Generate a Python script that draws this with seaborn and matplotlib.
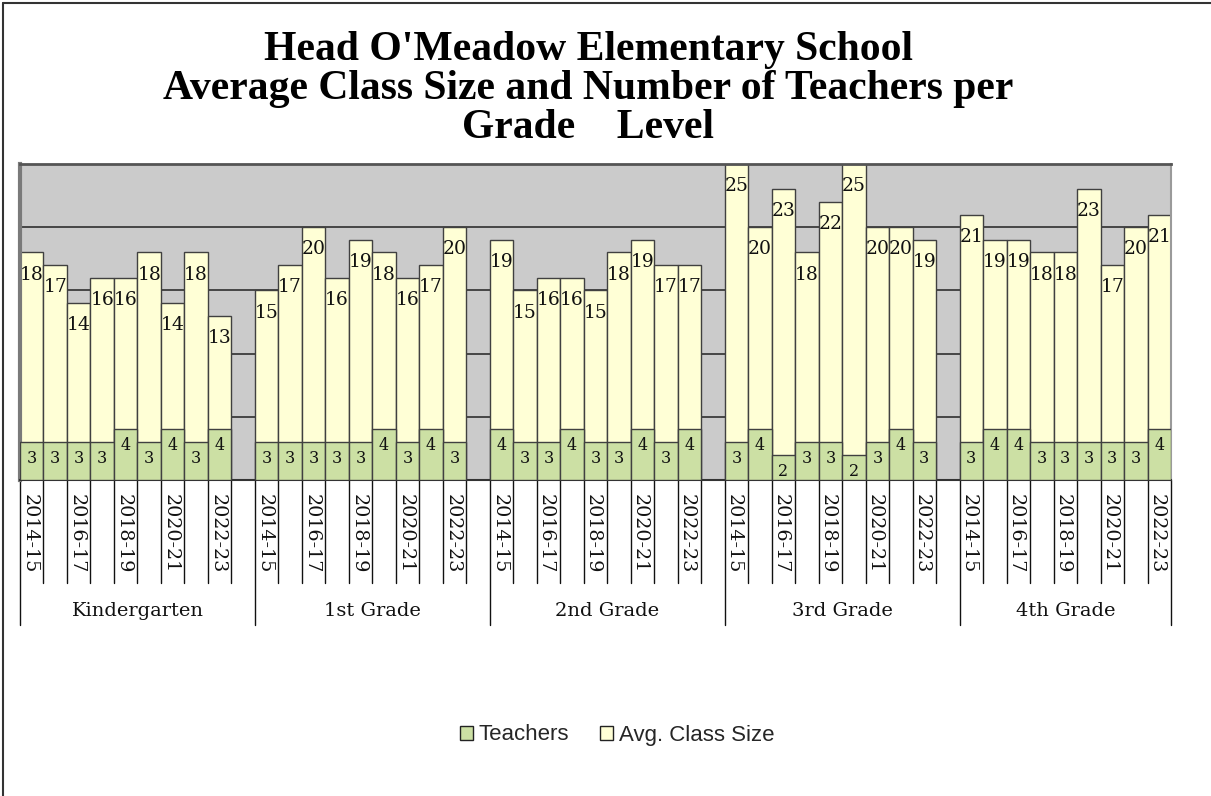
import numpy as np
import pandas as pd
import matplotlib
matplotlib.use("Agg")
import matplotlib.pyplot as plt
from matplotlib.patches import Patch
from matplotlib.lines import Line2D
import matplotlib.transforms as mtransforms
import seaborn as sns

# ---------------- data ----------------
grades = ["Kindergarten", "1st Grade", "2nd Grade", "3rd Grade", "4th Grade"]
years = ["2014-15", "2015-16", "2016-17", "2017-18", "2018-19",
         "2019-20", "2020-21", "2021-22", "2022-23"]
year_labels_shown = ["2014-15", "2016-17", "2018-19", "2020-21", "2022-23"]

class_k = [18, 17, 14, 16, 16, 18, 14, 18, 13]
class_1 = [15, 17, 20, 16, 19, 18, 16, 17, 20]
class_2 = [19, 15, 16, 16, 15, 18, 19, 17, 17]
class_3 = [25, 20, 23, 18, 22, 25, 20, 20, 19]
class_4 = [21, 19, 19, 18, 18, 23, 17, 20, 21]

teach_k = [3, 3, 3, 3, 4, 3, 4, 3, 4]
teach_1 = [3, 3, 3, 3, 3, 4, 3, 4, 3]
teach_2 = [4, 3, 3, 4, 3, 3, 4, 3, 4]
teach_3 = [3, 4, 2, 3, 3, 2, 3, 4, 3]
teach_4 = [3, 4, 4, 3, 3, 3, 3, 3, 4]

class_sizes = [class_k, class_1, class_2, class_3, class_4]
teachers = [teach_k, teach_1, teach_2, teach_3, teach_4]

rows = []
for g, grade in enumerate(grades):
    for i, yr in enumerate(years):
        rows.append({"grade": grade, "year": yr, "pos": g * 10 + i,
                     "class": class_sizes[g][i], "teachers": teachers[g][i]})
df = pd.DataFrame(rows)

# ---------------- style ----------------
C_CLASS = "#FFFFD6"
C_TEACH = "#CCE0A4"
C_EDGE = "#404040"
SERIF = ["DejaVu Serif"]

sns.set_theme(style="white")
plt.rcParams["font.family"] = ["DejaVu Serif", "DejaVu Sans"]

fig = plt.figure(figsize=(12.11, 7.96), dpi=100)
ax = fig.add_axes([20 / 1211, 1 - 480 / 796, (1171 - 20) / 1211, (480 - 164) / 796])
ax.set_facecolor("#CBCBCB")

sns.barplot(data=df, x="pos", y="class", native_scale=True, width=1.0,
            color=C_CLASS, saturation=1, edgecolor=C_EDGE, linewidth=1.0,
            errorbar=None, ax=ax, zorder=2)
sns.barplot(data=df, x="pos", y="teachers", native_scale=True, width=1.0,
            color=C_TEACH, saturation=1, edgecolor=C_EDGE, linewidth=1.0,
            errorbar=None, ax=ax, zorder=3)

ax.set_xlim(-0.5, 48.5)
ax.set_ylim(0, 25)
ax.set_yticks([5, 10, 15, 20, 25])
ax.yaxis.grid(True, color="#3C3C3C", linewidth=1.3)
ax.xaxis.grid(False)
ax.set_axisbelow(True)
ax.tick_params(axis="y", left=False, labelleft=False)
ax.tick_params(axis="x", bottom=False, labelbottom=False)
ax.set_xlabel("")
ax.set_ylabel("")

ax.spines["left"].set_color("#7A7A7A"); ax.spines["left"].set_linewidth(3)
ax.spines["top"].set_color("#555555"); ax.spines["top"].set_linewidth(2)
ax.spines["right"].set_color("#9A9A9A"); ax.spines["right"].set_linewidth(1.5)
ax.spines["bottom"].set_color("#333333"); ax.spines["bottom"].set_linewidth(1.5)

# data labels
for _, r in df.iterrows():
    ax.text(r["pos"], r["class"] - 1.75, f"{r['class']}", ha="center", va="center",
            fontsize=13.5, color="#111111", zorder=5, family=SERIF)
    ax.text(r["pos"], r["teachers"] - 1.3, f"{r['teachers']}", ha="center", va="center",
            fontsize=11.5, color="#111111", zorder=5, family=SERIF)

# category axis (multi-level)
trans = mtransforms.blended_transform_factory(ax.transData, ax.transAxes)
h_px = 480 - 164
row1 = -(583 - 480) / h_px
row2 = -(625 - 480) / h_px
group_bounds = [-0.5, 9.5, 19.5, 29.5, 39.5, 48.5]
for k in range(50):
    xb = k - 0.5
    if xb > 48.5:
        break
    y_end = row2 if xb in group_bounds else row1
    ax.add_line(Line2D([xb, xb], [0, y_end], transform=trans, color="#111111",
                       linewidth=1.0, clip_on=False))

for g in range(len(grades)):
    for i, yr in enumerate(years):
        if yr in year_labels_shown:
            ax.text(g * 10 + i - 0.1, -(494 - 480) / h_px, yr, transform=trans,
                    rotation=-90, ha="center", va="top", fontsize=13.8,
                    color="#111111", family=SERIF)
    lo, hi = group_bounds[g], group_bounds[g + 1]
    ax.text((lo + hi) / 2, -(611 - 480) / h_px, grades[g], transform=trans,
            ha="center", va="center", fontsize=14, color="#111111", family=SERIF)

# title
fig.text(588 / 1211, 1 - 89 / 796,
         "Head O'Meadow Elementary School\nAverage Class Size and Number of Teachers per\nGrade    Level",
         ha="center", va="center", fontsize=30, fontweight="bold",
         family=["Liberation Serif"], linespacing=1.03, color="#000000")

# legend
handles = [Patch(facecolor=C_TEACH, edgecolor="#222222", linewidth=1.0, label="Teachers"),
           Patch(facecolor=C_CLASS, edgecolor="#222222", linewidth=1.0, label="Avg. Class Size")]
fig.legend(handles=handles, loc="center", bbox_to_anchor=(617 / 1211, 1 - 735 / 796),
           ncol=2, frameon=False, handlelength=0.6, handleheight=0.6,
           handletextpad=0.25, columnspacing=1.4,
           prop={"family": "Liberation Sans", "size": 16})

# outer border (top and left visible)
fig.add_artist(Line2D([3 / 1211, 3 / 1211], [0, 1 - 3 / 796], transform=fig.transFigure,
                      color="#333333", linewidth=1.5))
fig.add_artist(Line2D([3 / 1211, 1], [1 - 3 / 796, 1 - 3 / 796], transform=fig.transFigure,
                      color="#333333", linewidth=1.5))

fig.savefig("out.png", dpi=100, facecolor="white")
